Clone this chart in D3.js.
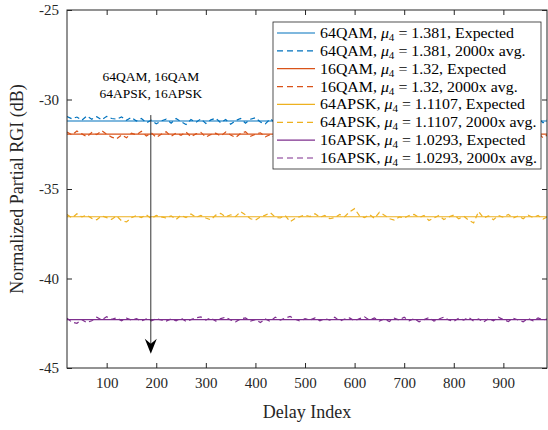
<!DOCTYPE html>
<html>
<head>
<meta charset="utf-8">
<script src="https://cdn.jsdelivr.net/npm/d3@7"></script>
<style>
  body { margin: 0; background: #fff; }
  svg text { font-family: "Liberation Serif", "DejaVu Serif", serif; fill: #262626; }
</style>
</head>
<body>
<div class="rgi-plot"></div>
<script>
// delay indices for the averaged curves
var delays = d3.range(20, 1000, 10);

var names = ['64QAM', '16QAM', '64APSK', '16APSK'];
var mu4 = ['1.381', '1.32', '1.1107', '1.0293'];
var colors = ['#0072BD', '#D95319', '#EDB120', '#7E2F8E'];

// expected values (flat)
var expected = [-31.2, -31.93, -36.55, -42.3];

var avg64qam = [
  -30.95,-31.08,-30.98,-31.16,-30.92,-31.1,-30.96,-31.14,-30.94,-31.06,
  -31.1,-30.97,-31.16,-31.0,-31.2,-31.06,-31.3,-31.16,-31.36,-31.2,
  -31.1,-31.32,-31.06,-31.24,-31.4,-31.12,-31.28,-31.08,-31.34,-31.14,
  -31.04,-31.3,-31.12,-31.38,-31.18,-31.06,-31.32,-31.1,-31.02,-31.26,
  -31.36,-31.08,-31.3,-31.04,-31.2,-31.4,-31.12,-31.0,-31.28,-31.08,
  -31.22,-31.36,-31.06,-31.26,-31.12,-31.34,-31.02,-31.2,-31.32,-31.08,
  -31.38,-31.12,-31.26,-31.04,-31.36,-31.1,-31.28,-31.06,-31.22,-31.34,
  -31.08,-31.0,-31.26,-31.12,-31.36,-31.04,-31.22,-31.08,-31.3,-31.06,
  -31.2,-31.38,-31.1,-31.28,-31.02,-31.22,-31.12,-31.34,-31.06,-31.26,
  -31.0,-31.2,-31.36,-31.08,-31.22,-31.04,-31.3,-31.12
];
var avg16qam = [
  -31.82,-31.98,-31.76,-31.92,-32.08,-31.84,-31.96,-31.74,-31.94,-32.1,
  -32.2,-31.98,-32.14,-31.88,-31.98,-31.78,-32.04,-31.86,-32.12,-31.94,
  -31.8,-32.06,-31.88,-32.0,-31.82,-32.08,-31.92,-31.84,-32.1,-31.96,
  -31.88,-32.04,-31.82,-31.98,-32.12,-31.9,-31.8,-32.06,-31.94,-31.86,
  -32.08,-31.96,-32.16,-31.88,-32.02,-31.82,-32.1,-31.94,-32.14,-31.98,
  -31.86,-32.08,-31.9,-32.18,-31.96,-31.88,-32.1,-31.94,-32.02,-31.82,
  -31.98,-32.12,-31.88,-32.06,-31.94,-32.14,-31.86,-31.98,-32.08,-31.9,
  -31.78,-31.96,-31.86,-32.06,-31.92,-31.76,-31.94,-31.84,-32.04,-31.88,
  -31.8,-31.98,-31.86,-32.08,-31.92,-31.82,-32.02,-31.94,-32.1,-31.88,
  -31.98,-32.12,-31.9,-32.06,-31.94,-31.84,-32.14,-31.96
];
var avg64apsk = [
  -36.42,-36.62,-36.38,-36.56,-36.46,-36.64,-36.72,-36.5,-36.6,-36.7,
  -36.5,-36.78,-36.84,-36.6,-36.48,-36.6,-36.44,-36.66,-36.48,-36.56,
  -36.62,-36.5,-36.7,-36.46,-36.6,-36.4,-36.58,-36.48,-36.62,-36.72,
  -36.46,-36.36,-36.56,-36.44,-36.54,-36.26,-36.44,-36.66,-36.74,-36.56,
  -36.46,-36.32,-36.58,-36.62,-36.48,-36.82,-36.64,-36.54,-36.46,-36.54,
  -36.38,-36.58,-36.48,-36.66,-36.6,-36.42,-36.54,-36.28,-36.1,-36.5,
  -36.6,-36.42,-36.64,-36.3,-36.46,-36.66,-36.74,-36.56,-36.62,-36.48,
  -36.42,-36.6,-36.48,-36.76,-36.62,-36.48,-36.7,-36.56,-36.46,-36.66,
  -36.52,-36.74,-36.9,-36.26,-36.62,-36.5,-36.72,-36.48,-36.58,-36.42,
  -36.62,-36.5,-36.66,-36.46,-36.6,-36.48,-36.68,-36.55
];
var avg16apsk = [
  -42.22,-42.44,-42.5,-42.3,-42.46,-42.36,-42.16,-42.32,-42.14,-42.28,
  -42.2,-42.36,-42.22,-42.32,-42.24,-42.38,-42.26,-42.36,-42.24,-42.32,
  -42.38,-42.26,-42.36,-42.22,-42.4,-42.3,-42.2,-42.14,-42.32,-42.2,
  -42.38,-42.24,-42.16,-42.32,-42.42,-42.26,-42.2,-42.38,-42.3,-42.46,
  -42.26,-42.4,-42.16,-42.32,-42.22,-42.12,-42.28,-42.38,-42.24,-42.32,
  -42.2,-42.36,-42.24,-42.32,-42.16,-42.38,-42.26,-42.2,-42.36,-42.24,
  -42.14,-42.32,-42.2,-42.38,-42.26,-42.4,-42.22,-42.32,-42.16,-42.36,
  -42.24,-42.42,-42.3,-42.18,-42.38,-42.26,-42.16,-42.32,-42.4,-42.22,
  -42.32,-42.18,-42.38,-42.26,-42.44,-42.24,-42.36,-42.16,-42.3,-42.4,
  -42.22,-42.32,-42.42,-42.24,-42.36,-42.2,-42.32,-42.26
];
var averages = [avg64qam, avg16qam, avg64apsk, avg16apsk];

var xTicks = [100, 200, 300, 400, 500, 600, 700, 800, 900];
var yTicks = [-45, -40, -35, -30, -25];

// annotation arrow (data coords)
var arrowX = 189, arrowFrom = -30.87, arrowTo = -44.2;

const width = 548;
const height = 430;
var mLeft = 67, mRight = 547, mTop = 10, mBottom = 368;

var x = d3.scaleLinear().domain([20, 988]).range([mLeft, mRight]);
var y = d3.scaleLinear().domain([-45, -25]).range([mBottom, mTop]);

var svg = d3.select('.rgi-plot')
  .append('svg')
  .attr('width', width)
  .attr('height', height);

svg.append('defs').append('clipPath').attr('id', 'clip')
  .append('rect')
  .attr('x', mLeft).attr('y', mTop)
  .attr('width', mRight - mLeft).attr('height', mBottom - mTop);

var plot = svg.append('g').attr('clip-path', 'url(#clip)');

var line = d3.line()
  .x(function(d){return x(d[0])})
  .y(function(d){return y(d[1])});

names.forEach(function(n, i){
  plot.append('path')
    .attr('d', line([[20, expected[i]], [988, expected[i]]]))
    .attr('fill', 'none')
    .attr('stroke', colors[i])
    .attr('stroke-width', 1.2);
  plot.append('path')
    .attr('d', line(delays.map(function(dl, j){return [dl, averages[i][j]]})))
    .attr('fill', 'none')
    .attr('stroke', colors[i])
    .attr('stroke-width', 1.2)
    .attr('stroke-dasharray', '5,3.5');
});

// axes (ticks inside, box)
var axisColor = '#262626';
var gx = svg.append('g').attr('transform', 'translate(0,' + mBottom + ')')
  .call(d3.axisBottom(x).tickValues(xTicks).tickSize(-5).tickPadding(9));
var gxt = svg.append('g').attr('transform', 'translate(0,' + mTop + ')')
  .call(d3.axisTop(x).tickValues(xTicks).tickSize(-5).tickFormat(''));
var gy = svg.append('g').attr('transform', 'translate(' + mLeft + ',0)')
  .call(d3.axisLeft(y).tickValues(yTicks).tickSize(-5).tickPadding(8).tickFormat(function(d){return String(d).replace('\u2212', '-')}));
var gyr = svg.append('g').attr('transform', 'translate(' + mRight + ',0)')
  .call(d3.axisRight(y).tickValues(yTicks).tickSize(-5).tickFormat(''));

[gx, gxt, gy, gyr].forEach(function(g){
  g.select('.domain').remove();
  g.selectAll('line').attr('stroke', axisColor);
  g.selectAll('text').attr('font-size', '15px').attr('fill', axisColor)
    .style('font-family', '"Liberation Serif", serif');
});

svg.append('rect')
  .attr('x', mLeft).attr('y', mTop)
  .attr('width', mRight - mLeft).attr('height', mBottom - mTop)
  .attr('fill', 'none').attr('stroke', axisColor).attr('stroke-width', 1);

// axis labels
svg.append('text')
  .attr('x', (mLeft + mRight) / 2).attr('y', 418)
  .attr('text-anchor', 'middle').attr('font-size', '18px')
  .text('Delay Index');
svg.append('text')
  .attr('transform', 'translate(23,' + ((mTop + mBottom) / 2) + ') rotate(-90)')
  .attr('text-anchor', 'middle').attr('font-size', '18px')
  .text('Normalized Partial RGI (dB)');

// annotation
var ax = x(arrowX), ay1 = y(arrowFrom), ay2 = y(arrowTo);
svg.append('line')
  .attr('x1', ax).attr('x2', ax).attr('y1', ay1).attr('y2', ay2 - 6)
  .attr('stroke', '#333').attr('stroke-width', 1);
svg.append('path')
  .attr('d', 'M' + ax + ',' + ay2 + ' L' + (ax - 6) + ',' + (ay2 - 15) +
        ' L' + ax + ',' + (ay2 - 10) + ' L' + (ax + 6) + ',' + (ay2 - 15) + 'Z')
  .attr('fill', '#000');
svg.append('text').attr('x', ax).attr('y', 81)
  .attr('text-anchor', 'middle').attr('font-size', '13.5px').style('fill', '#000')
  .text('64QAM, 16QAM');
svg.append('text').attr('x', ax).attr('y', 98)
  .attr('text-anchor', 'middle').attr('font-size', '13.5px').style('fill', '#000')
  .text('64APSK, 16APSK');

// legend
var lg = svg.append('g');
lg.append('rect')
  .attr('x', 273).attr('y', 22).attr('width', 268).attr('height', 147)
  .attr('fill', '#fff').attr('stroke', axisColor).attr('stroke-width', 0.8);

var rows = [];
names.forEach(function(n, i){
  rows.push({name: n, mu: mu4[i], kind: 'Expected', color: colors[i], dash: null});
  rows.push({name: n, mu: mu4[i], kind: '2000x avg.', color: colors[i], dash: '6,4'});
});

rows.forEach(function(r, k){
  var ry = 33 + k * 17.86;
  lg.append('line')
    .attr('x1', 277).attr('x2', 315).attr('y1', ry).attr('y2', ry)
    .attr('stroke', r.color).attr('stroke-width', 1.2)
    .attr('stroke-dasharray', r.dash);
  var t = lg.append('text')
    .attr('transform', 'translate(320,' + (ry + 5) + ') scale(1.06,1)')
    .attr('font-size', '15px').style('fill', '#000');
  t.append('tspan').text(r.name + ', ');
  t.append('tspan').attr('font-style', 'italic').text('\u03bc');
  t.append('tspan').attr('font-size', '10.5px').attr('dy', 3).text('4');
  t.append('tspan').attr('dy', -3).text(' = ' + r.mu + ', ' + r.kind);
});
</script>
</body>
</html>
